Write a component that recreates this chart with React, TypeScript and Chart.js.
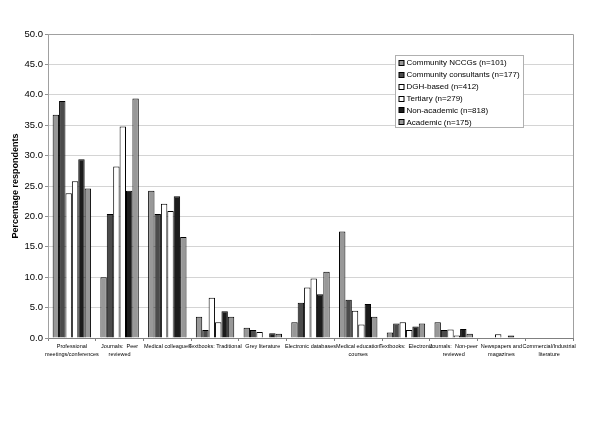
import React, { useEffect, useRef } from "react";
import { Chart, registerables } from "chart.js";

Chart.register(...registerables);

const categories: (string | string[])[] = [
  ["Professional", "meetings/conferences"],
  ["Journals:  Peer", "reviewed"],
  "Medical colleagues",
  "Textbooks: Traditional",
  "Grey literature",
  "Electronic databases",
  ["Medical education", "courses"],
  "Textbooks:  Electronic",
  ["Journals:  Non-peer", "reviewed"],
  ["Newspapers and", "magazines"],
  ["Commercial/Industrial", "literature"],
];

const seriesNames = [
  "Community NCCGs (n=101)",
  "Community consultants (n=177)",
  "DGH-based (n=412)",
  "Tertiary (n=279)",
  "Non-academic (n=818)",
  "Academic (n=175)",
];

const nccgs = [36.7, 10.0, 24.2, 3.5, 1.7, 2.6, 17.5, 0.9, 2.6, 0, 0];
const consultants = [39.0, 20.4, 20.4, 1.3, 1.3, 5.8, 6.3, 2.4, 1.3, 0, 0];
const dgh = [23.8, 28.2, 22.1, 6.6, 1.0, 8.3, 4.5, 2.6, 1.4, 0.6, 0];
const tertiary = [25.8, 34.8, 20.9, 2.6, 0, 9.8, 2.2, 1.3, 0.4, 0, 0];
const nonAcademic = [29.4, 24.2, 23.3, 4.4, 0.8, 7.2, 5.6, 1.9, 1.5, 0.4, 0];
const academic = [24.6, 39.4, 16.6, 3.5, 0.7, 10.9, 3.5, 2.4, 0.7, 0, 0];

const seriesValues = [nccgs, consultants, dgh, tertiary, nonAcademic, academic];
const seriesColors = ["#989898", "#4b4b4b", "#ffffff", "#ffffff", "#1c1c1c", "#989898"];

const yTickMin = 0;
const yTickMax = 50;
const yTickStep = 5;

const FONT = "'Liberation Sans', Arial, sans-serif";

const boxLegend = {
  id: "boxLegend",
  afterDraw(chart: any) {
    const ctx = chart.ctx as CanvasRenderingContext2D;
    const ca = chart.chartArea;
    const x = ca.left + 347.5;
    const y = 55.5;
    const w = 128;
    const h = 72;
    ctx.save();
    ctx.fillStyle = "#ffffff";
    ctx.fillRect(x, y, w, h);
    ctx.strokeStyle = "#b0b0b0";
    ctx.lineWidth = 1;
    ctx.strokeRect(x, y, w, h);
    ctx.font = `8px ${FONT}`;
    ctx.textBaseline = "middle";
    ctx.textAlign = "left";
    chart.data.datasets.forEach((ds: any, i: number) => {
      const cy = 62.3 + i * 11.9;
      const top = Math.round(cy - 2.5) + 0.5;
      ctx.fillStyle = ds.backgroundColor;
      ctx.fillRect(x + 3.5, top, 5, 5);
      ctx.strokeStyle = "#000";
      ctx.strokeRect(x + 3.5, top, 5, 5);
      ctx.fillStyle = "#000";
      ctx.fillText(ds.label, x + 11, cy + 0.5);
    });
    ctx.restore();
  },
};

const plotBorder = {
  id: "plotBorder",
  afterDatasetsDraw(chart: any) {
    const ctx = chart.ctx as CanvasRenderingContext2D;
    const ca = chart.chartArea;
    const r = Math.round(ca.right) + 0.5;
    const t = Math.round(ca.top) + 0.5;
    ctx.save();
    ctx.strokeStyle = "#a0a0a0";
    ctx.lineWidth = 1;
    ctx.beginPath();
    ctx.moveTo(ca.left, t);
    ctx.lineTo(r, t);
    ctx.lineTo(r, ca.bottom);
    ctx.stroke();
    ctx.restore();
  },
};

export default function App() {
  const ref = useRef<HTMLCanvasElement | null>(null);

  useEffect(() => {
    if (!ref.current) return;
    const chart = new Chart(ref.current, {
      type: "bar",
      data: {
        labels: categories,
        datasets: seriesNames.map((name, i) => ({
          label: name,
          data: seriesValues[i],
          backgroundColor: seriesColors[i],
          borderColor: "#000000",
          borderWidth: 1,
          categoryPercentage: 0.805,
          barPercentage: 1,
        })),
      },
      options: {
        animation: false,
        responsive: false,
        maintainAspectRatio: false,
        layout: { padding: { left: 0, right: 27, top: 34, bottom: 56 } },
        plugins: {
          legend: { display: false },
          tooltip: { enabled: false },
        },
        scales: {
          x: {
            offset: true,
            grid: {
              display: true,
              drawOnChartArea: false,
              offset: true,
              tickLength: 3,
              color: "#808080",
            },
            border: { color: "#808080" },
            ticks: {
              autoSkip: false,
              maxRotation: 0,
              minRotation: 0,
              padding: 1,
              color: "#000",
              font: { family: FONT, size: 5.5, lineHeight: 1.5 },
            },
            afterFit: (s: any) => {
              s.height = 30;
            },
          },
          y: {
            min: yTickMin,
            max: yTickMax,
            ticks: {
              stepSize: yTickStep,
              padding: 2,
              color: "#000",
              font: { family: FONT, size: 9.5 },
              callback: (v: any) => Number(v).toFixed(1),
            },
            grid: {
              color: "#d4d4d4",
              tickLength: 3,
              tickColor: "#909090",
            },
            border: { color: "#a0a0a0" },
            title: {
              display: true,
              text: "Percentage respondents",
              color: "#000",
              font: { family: FONT, size: 9, weight: "bold" },
              padding: { top: 10, bottom: 0 },
            },
            afterFit: (s: any) => {
              s.width = 48;
            },
          },
        },
      },
      plugins: [plotBorder, boxLegend],
    } as any);
    return () => chart.destroy();
  }, []);

  return (
    <div style={{ position: "fixed", left: 0, top: 0, width: 600, height: 424, background: "#fff" }}>
      <canvas ref={ref} width={600} height={424} style={{ width: 600, height: 424 }} />
    </div>
  );
}
